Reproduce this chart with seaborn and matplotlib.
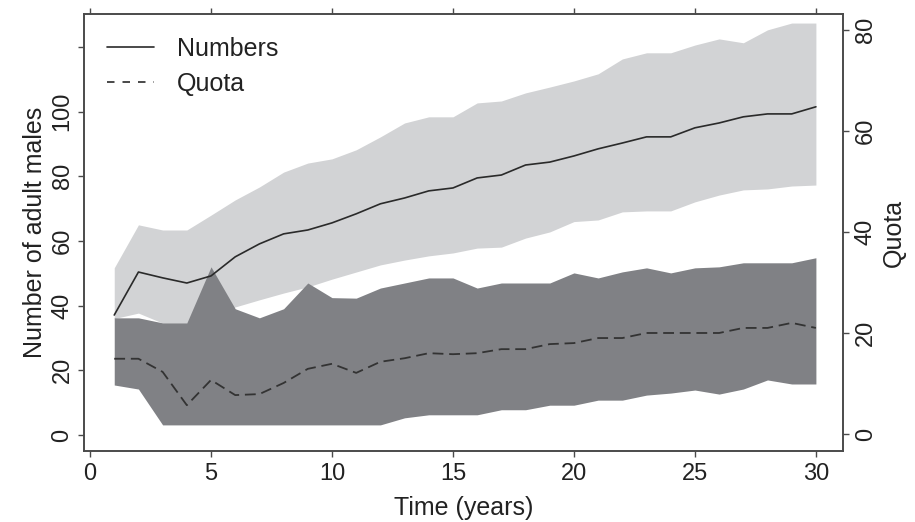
import matplotlib
matplotlib.use("Agg")
import matplotlib.pyplot as plt
import numpy as np
import pandas as pd
import seaborn as sns
from matplotlib.lines import Line2D

# ---------------- data ----------------
years = list(range(1, 31))

numbers_mean = [37.1, 50.4, 48.6, 47.0, 49.2, 55.1, 59.1, 62.2, 63.4, 65.6,
                68.4, 71.5, 73.3, 75.5, 76.4, 79.5, 80.4, 83.5, 84.4, 86.3,
                88.5, 90.3, 92.2, 92.2, 95.0, 96.5, 98.4, 99.3, 99.3, 101.5]
numbers_low = [36.0, 37.7, 34.6, 34.6, 36.5, 39.6, 41.8, 43.9, 45.8, 48.2,
               50.4, 52.6, 54.1, 55.4, 56.3, 57.8, 58.1, 60.9, 62.8, 66.0,
               66.5, 69.0, 69.3, 69.3, 72.1, 74.2, 75.8, 76.1, 77.0, 77.3]
numbers_high = [51.7, 65.0, 63.4, 63.4, 68.0, 72.7, 76.7, 81.3, 84.1, 85.4,
                88.2, 92.2, 96.5, 98.4, 98.4, 102.7, 103.3, 105.8, 107.6, 109.5,
                111.7, 116.3, 118.2, 118.2, 120.6, 122.5, 121.3, 125.3, 127.4, 127.4]

quota_mean = [14.9, 14.9, 12.3, 5.7, 10.7, 7.7, 7.9, 10.1, 12.9, 13.9,
              12.1, 14.3, 15.0, 16.0, 15.8, 16.0, 16.8, 16.8, 17.8, 18.0,
              19.0, 19.0, 20.0, 20.0, 20.0, 20.0, 21.0, 21.0, 22.0, 21.0]
quota_low = [9.7, 8.9, 1.8, 1.8, 1.8, 1.8, 1.8, 1.8, 1.8, 1.8,
             1.8, 1.8, 3.2, 3.8, 3.8, 3.8, 4.8, 4.8, 5.7, 5.7,
             6.7, 6.7, 7.7, 8.1, 8.7, 7.9, 8.9, 10.7, 9.9, 9.9]
quota_high = [23.0, 23.0, 22.0, 22.0, 33.1, 24.8, 23.0, 24.8, 29.9, 27.0,
              26.9, 28.9, 29.9, 30.9, 30.9, 28.9, 29.9, 29.9, 29.9, 31.9,
              30.9, 32.1, 32.9, 31.9, 32.9, 33.1, 33.9, 33.9, 33.9, 34.9]

x_ticks = [0, 5, 10, 15, 20, 25, 30]
left_ticks = [0, 20, 40, 60, 80, 100, 120]
left_ticklabels = ["0", "20", "40", "60", "80", "100", ""]
right_ticks = [0, 20, 40, 60, 80]

df = pd.DataFrame({"year": years, "numbers": numbers_mean, "quota": quota_mean})

# ---------------- style ----------------
sns.set_theme(style="ticks")
plt.rcParams["font.family"] = ["Liberation Sans", "DejaVu Sans"]
spine_col = "#4a4a4a"
text_col = "#222222"

fig = plt.figure(figsize=(9.15, 5.22), dpi=100)
ax1 = fig.add_axes([84 / 915, 1 - 451 / 522, (843 - 84) / 915, (451 - 14) / 522])
ax2 = ax1.twinx()

# bands
ax1.fill_between(years, numbers_low, numbers_high, color="#d2d3d5", lw=0)
ax2.fill_between(years, quota_low, quota_high, color="#808185", lw=0)

# lines (numbers line drawn in ax2 stack but in ax1 data coordinates)
sns.lineplot(data=df, x="year", y="numbers", ax=ax2, color="#2a2a2a", lw=1.2,
             transform=ax1.transData)
sns.lineplot(data=df, x="year", y="quota", ax=ax2, color="#333333", lw=1.3,
             linestyle=(0, (6, 3.2)))

# limits
ax1.set_xlim(-0.25, 31.12)
ax1.set_ylim(-4.95, 130.2)
ax2.set_ylim(-3.37, 83.17)

# ticks
ax1.set_xticks(x_ticks)
ax1.set_yticks(left_ticks)
ax1.set_yticklabels(left_ticklabels)
ax2.set_yticks(right_ticks)

for ax in (ax1, ax2):
    ax.tick_params(direction="out", length=4.5, width=1.0, color=spine_col,
                   labelsize=17, labelcolor=text_col, pad=3)
    for sp in ax.spines.values():
        sp.set_color(spine_col)
        sp.set_linewidth(1.2)
ax1.tick_params(axis="x", top=True, labeltop=False, pad=4)
ax1.tick_params(axis="y", labelrotation=90)
ax2.tick_params(axis="y", labelrotation=90, pad=4)
for lab in ax1.get_yticklabels() + ax2.get_yticklabels():
    lab.set_va("center")

ax1.set_xlabel("Time (years)", fontsize=18, color=text_col, labelpad=8)
ax1.set_ylabel("Number of adult males", fontsize=18, color=text_col, labelpad=3)
ax2.set_ylabel("Quota", fontsize=18, color=text_col, labelpad=4, rotation=90)
ax2.set_xlabel("")

handles = [Line2D([], [], color="#2a2a2a", lw=1.2),
           Line2D([], [], color="#2a2a2a", lw=1.2, linestyle=(0, (4.5, 4.8)))]
ax2.legend(handles=handles, labels=["Numbers", "Quota"], loc="upper left",
           bbox_to_anchor=(0.03, 0.947), frameon=False, fontsize=18,
           handlelength=1.9, handletextpad=0.9, labelspacing=0.42,
           borderpad=0, borderaxespad=0, labelcolor=text_col)

fig.savefig("out.png", dpi=100)
